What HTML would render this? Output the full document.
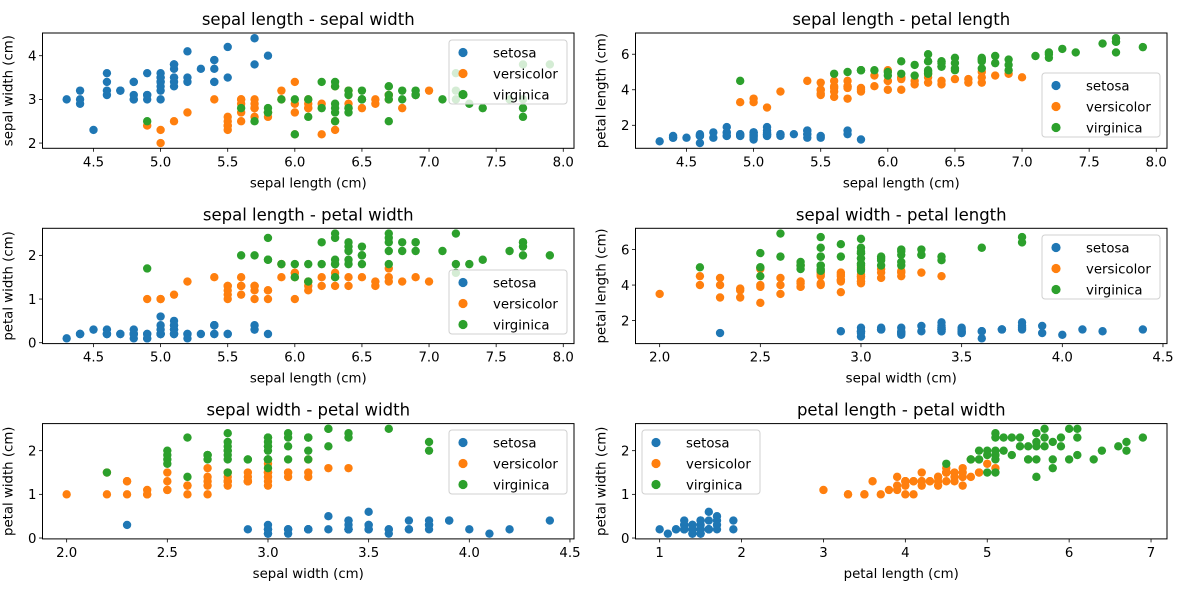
<!DOCTYPE html>
<html><head><meta charset="utf-8"><style>
html,body{margin:0;padding:0;background:#fff;}
svg{display:block;font-family:"DejaVu Sans","Liberation Sans",sans-serif;}
</style></head><body>
<svg id="fig" width="1178" height="593" viewBox="0 0 1178 593" xmlns="http://www.w3.org/2000/svg"></svg>
<script>
const species = ['setosa','versicolor','virginica'];
const colors = ['#1f77b4','#ff7f0e','#2ca02c'];
const featureNames = ['sepal length (cm)','sepal width (cm)','petal length (cm)','petal width (cm)'];
const setosaSL=[5.1,4.9,4.7,4.6,5.0,5.4,4.6,5.0,4.4,4.9,5.4,4.8,4.8,4.3,5.8,5.7,5.4,5.1,5.7,5.1,5.4,5.1,4.6,5.1,4.8,5.0,5.0,5.2,5.2,4.7,4.8,5.4,5.2,5.5,4.9,5.0,5.5,4.9,4.4,5.1,5.0,4.5,4.4,5.0,5.1,4.8,5.1,4.6,5.3,5.0];
const setosaSW=[3.5,3.0,3.2,3.1,3.6,3.9,3.4,3.4,2.9,3.1,3.7,3.4,3.0,3.0,4.0,4.4,3.9,3.5,3.8,3.8,3.4,3.7,3.6,3.3,3.4,3.0,3.4,3.5,3.4,3.2,3.1,3.4,4.1,4.2,3.1,3.2,3.5,3.6,3.0,3.4,3.5,2.3,3.2,3.5,3.8,3.0,3.8,3.2,3.7,3.3];
const setosaPL=[1.4,1.4,1.3,1.5,1.4,1.7,1.4,1.5,1.4,1.5,1.5,1.6,1.4,1.1,1.2,1.5,1.3,1.4,1.7,1.5,1.7,1.5,1.0,1.7,1.9,1.6,1.6,1.5,1.4,1.6,1.6,1.5,1.5,1.4,1.5,1.2,1.3,1.4,1.3,1.5,1.3,1.3,1.3,1.6,1.9,1.4,1.6,1.4,1.5,1.4];
const setosaPW=[0.2,0.2,0.2,0.2,0.2,0.4,0.3,0.2,0.2,0.1,0.2,0.2,0.1,0.1,0.2,0.4,0.4,0.3,0.3,0.3,0.2,0.4,0.2,0.5,0.2,0.2,0.4,0.2,0.2,0.2,0.2,0.4,0.1,0.2,0.2,0.2,0.2,0.1,0.2,0.2,0.3,0.3,0.2,0.6,0.4,0.3,0.2,0.2,0.2,0.2];
const versSL=[7.0,6.4,6.9,5.5,6.5,5.7,6.3,4.9,6.6,5.2,5.0,5.9,6.0,6.1,5.6,6.7,5.6,5.8,6.2,5.6,5.9,6.1,6.3,6.1,6.4,6.6,6.8,6.7,6.0,5.7,5.5,5.5,5.8,6.0,5.4,6.0,6.7,6.3,5.6,5.5,5.5,6.1,5.8,5.0,5.6,5.7,5.7,6.2,5.1,5.7];
const versSW=[3.2,3.2,3.1,2.3,2.8,2.8,3.3,2.4,2.9,2.7,2.0,3.0,2.2,2.9,2.9,3.1,3.0,2.7,2.2,2.5,3.2,2.8,2.5,2.8,2.9,3.0,2.8,3.0,2.9,2.6,2.4,2.4,2.7,2.7,3.0,3.4,3.1,2.3,3.0,2.5,2.6,3.0,2.6,2.3,2.7,3.0,2.9,2.9,2.5,2.8];
const versPL=[4.7,4.5,4.9,4.0,4.6,4.5,4.7,3.3,4.6,3.9,3.5,4.2,4.0,4.7,3.6,4.4,4.5,4.1,4.5,3.9,4.8,4.0,4.9,4.7,4.3,4.4,4.8,5.0,4.5,3.5,3.8,3.7,3.9,5.1,4.5,4.5,4.7,4.4,4.1,4.0,4.4,4.6,4.0,3.3,4.2,4.2,4.2,4.3,3.0,4.1];
const versPW=[1.4,1.5,1.5,1.3,1.5,1.3,1.6,1.0,1.3,1.4,1.0,1.5,1.0,1.4,1.3,1.4,1.5,1.0,1.5,1.1,1.8,1.3,1.5,1.2,1.3,1.4,1.4,1.7,1.5,1.0,1.1,1.0,1.2,1.6,1.5,1.6,1.5,1.3,1.3,1.3,1.2,1.4,1.2,1.0,1.3,1.2,1.3,1.3,1.1,1.3];
const virgSL=[6.3,5.8,7.1,6.3,6.5,7.6,4.9,7.3,6.7,7.2,6.5,6.4,6.8,5.7,5.8,6.4,6.5,7.7,7.7,6.0,6.9,5.6,7.7,6.3,6.7,7.2,6.2,6.1,6.4,7.2,7.4,7.9,6.4,6.3,6.1,7.7,6.3,6.4,6.0,6.9,6.7,6.9,5.8,6.8,6.7,6.7,6.3,6.5,6.2,5.9];
const virgSW=[3.3,2.7,3.0,2.9,3.0,3.0,2.5,2.9,2.5,3.6,3.2,2.7,3.0,2.5,2.8,3.2,3.0,3.8,2.6,2.2,3.2,2.8,2.8,2.7,3.3,3.2,2.8,3.0,2.8,3.0,2.8,3.8,2.8,2.8,2.6,3.0,3.4,3.1,3.0,3.1,3.1,3.1,2.7,3.2,3.3,3.0,2.5,3.0,3.4,3.0];
const virgPL=[6.0,5.1,5.9,5.6,5.8,6.6,4.5,6.3,5.8,6.1,5.1,5.3,5.5,5.0,5.1,5.3,5.5,6.7,6.9,5.0,5.7,4.9,6.7,4.9,5.7,6.0,4.8,4.9,5.6,5.8,6.1,6.4,5.6,5.1,5.6,6.1,5.6,5.5,4.8,5.4,5.6,5.1,5.1,5.9,5.7,5.2,5.0,5.2,5.4,5.1];
const virgPW=[2.5,1.9,2.1,1.8,2.2,2.1,1.7,1.8,1.8,2.5,2.0,1.9,2.1,2.0,2.4,2.3,1.8,2.2,2.3,1.5,2.3,2.0,2.0,1.8,2.1,1.8,1.8,1.8,2.1,1.6,1.9,2.0,2.2,1.5,1.4,2.3,2.4,1.8,1.8,2.1,2.4,2.3,1.9,2.3,2.5,2.3,1.9,2.0,2.3,1.8];
const speciesData=[[setosaSL,setosaSW,setosaPL,setosaPW],[versSL,versSW,versPL,versPW],[virgSL,virgSW,virgPL,virgPW]];
const featureTicks=[[4.5,5.0,5.5,6.0,6.5,7.0,7.5,8.0],[2.0,2.5,3.0,3.5,4.0,4.5],[1,2,3,4,5,6,7],[0,1,2]];
const featureTicksY=[[4.5,5.0,5.5,6.0,6.5,7.0,7.5,8.0],[2,3,4],[2,4,6],[0,1,2]];
const tickDecimals=[1,1,0,0];
const pairs=[[0,1],[0,2],[0,3],[1,2],[1,3],[2,3]];
const legendPos=[[449,40],[1042,73],[449,270],[1042,235],[449,430],[642,430]];

const NS='http://www.w3.org/2000/svg';
const svg=document.getElementById('fig');
function mk(tag,attrs,parent){const e=document.createElementNS(NS,tag);for(const k in attrs)e.setAttribute(k,attrs[k]);(parent||svg).appendChild(e);return e;}
function range(f){let mn=Infinity,mx=-Infinity;speciesData.forEach(s=>s[f].forEach(v=>{mn=Math.min(mn,v);mx=Math.max(mx,v);}));const m=(mx-mn)*0.05;return [mn-m,mx+m];}

const colX=[42.5,635.5], W=531.5, rowY=[33,228.3,423.6], H=115.3;
pairs.forEach((p,i)=>{
  const [fx,fy]=p;
  const L=colX[i%2], T=rowY[Math.floor(i/2)];
  const [x0,x1]=range(fx),[y0,y1]=range(fy);
  const sx=v=>L+(v-x0)/(x1-x0)*W, sy=v=>T+H-(v-y0)/(y1-y0)*H;
  const g=mk('g',{});
  
  
  const title=mk('text',{x:L+W/2,y:T-8,'text-anchor':'middle','font-size':'16.5',fill:'#000'},g);
  title.textContent=featureNames[fx].replace(' (cm)','')+' - '+featureNames[fy].replace(' (cm)','');
  
  
  speciesData.forEach((s,si)=>{
    s[fx].forEach((v,k)=>{
      const c=mk('circle',{cx:sx(v),cy:sy(s[fy][k]),r:4.2,fill:colors[si]},g);
      
      
    });
  });
  const fr=mk('rect',{x:L,y:T,width:W,height:H,fill:'none',stroke:'#000','stroke-width':1},g);
  
  
  featureTicks[fx].forEach(t=>{
    if(t<x0||t>x1)return;
    const x=sx(t);
    mk('line',{x1:x,x2:x,y1:T+H,y2:T+H+3.5,stroke:'#000','stroke-width':0.8},g);
    const tl=mk('text',{x:x,y:T+H+18,'text-anchor':'middle','font-size':'13.3',fill:'#000'},g);
    tl.textContent=t.toFixed(tickDecimals[fx]);
    
    
  });
  featureTicksY[fy].forEach(t=>{
    if(t<y0||t>y1)return;
    const y=sy(t);
    mk('line',{x1:L-3.5,x2:L,y1:y,y2:y,stroke:'#000','stroke-width':0.8},g);
    const tl=mk('text',{x:L-6,y:y+4.8,'text-anchor':'end','font-size':'13.3',fill:'#000'},g);
    tl.textContent=String(t);
    
    
  });
  const xl=mk('text',{x:L+W/2,y:T+H+39,'text-anchor':'middle','font-size':'13.3',fill:'#000'},g);
  xl.textContent=featureNames[fx];
  
  
  const yx=L-30, yc=T+H/2;
  const yl=mk('text',{x:yx,y:yc,'text-anchor':'middle','font-size':'13.3',fill:'#000',transform:`rotate(-90 ${yx} ${yc})`},g);
  yl.textContent=featureNames[fy];
  
  
  const [lx,ly]=legendPos[i];
  const lg=mk('g',{},g);
  
  
  mk('rect',{x:lx,y:ly,width:118,height:64,rx:3,fill:'rgba(255,255,255,0.8)',stroke:'#d0d0d0','stroke-width':1},lg);
  species.forEach((sp,si)=>{
    const cy=ly+12.5+si*21;
    const m=mk('circle',{cx:lx+14,cy:cy,r:4.6,fill:colors[si]},lg);
    
    
    const t=mk('text',{x:lx+44,y:cy+4.8,'font-size':'13.3',fill:'#000'},lg);
    t.textContent=sp;
    
    
  });
});
</script>
</body></html>
